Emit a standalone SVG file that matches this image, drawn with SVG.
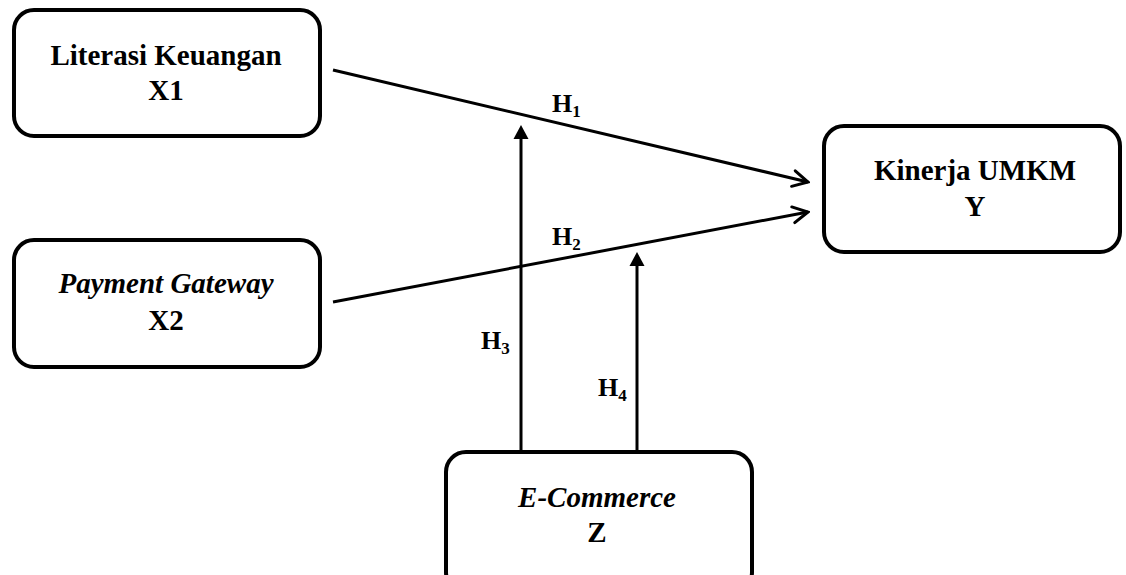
<svg xmlns="http://www.w3.org/2000/svg" width="1126" height="575" viewBox="0 0 1126 575">
<style>
.box{fill:#fff;stroke:#000;stroke-width:4}
.t{font-family:'Liberation Serif',serif;font-weight:bold;font-size:29px;text-anchor:middle;fill:#000}
.i{font-style:italic}
.h{font-family:'Liberation Serif',serif;font-weight:bold;font-size:26px;fill:#000}
.sub{font-size:17px}
.ln{stroke:#000;stroke-width:3;fill:none}
</style>
<defs>
<marker id="open" viewBox="0 0 20 20" refX="18" refY="10" markerWidth="20" markerHeight="20" markerUnits="userSpaceOnUse" orient="auto">
<path d="M3,2 L18,10 L3,18" fill="none" stroke="#000" stroke-width="3" stroke-linecap="round" stroke-linejoin="miter"/>
</marker>
</defs>
<g id="connectors">
<line class="ln" x1="333" y1="70" x2="808" y2="182" marker-end="url(#open)"/>
<line class="ln" x1="333" y1="302" x2="808" y2="212" marker-end="url(#open)"/>
<line class="ln" x1="521" y1="452" x2="521" y2="138"/>
<path d="M521,125 L528.5,139 L513.5,139 Z" fill="#000"/>
<line class="ln" x1="637" y1="452" x2="637" y2="265"/>
<path d="M637,252 L644.5,266 L629.5,266 Z" fill="#000"/>
<text class="h" font-family="Liberation Serif" x="552" y="112">H<tspan class="sub" dy="5">1</tspan></text>
<text class="h" font-family="Liberation Serif" x="552" y="245">H<tspan class="sub" dy="5">2</tspan></text>
<text class="h" font-family="Liberation Serif" x="481" y="349">H<tspan class="sub" dy="5">3</tspan></text>
<text class="h" font-family="Liberation Serif" x="598" y="396">H<tspan class="sub" dy="5">4</tspan></text>
</g>
<g id="node-x1">
<rect class="box" x="14" y="10" width="306" height="126" rx="20"/>
<text class="t" x="166" y="65">Literasi Keuangan</text>
<text class="t" x="166" y="100">X1</text>
</g>
<g id="node-x2">
<rect class="box" x="14" y="240" width="306" height="127" rx="20"/>
<text class="t i" x="166" y="293">Payment Gateway</text>
<text class="t" x="166" y="330">X2</text>
</g>
<g id="node-y">
<rect class="box" x="824" y="126" width="296" height="126" rx="20"/>
<text class="t" x="975" y="180">Kinerja UMKM</text>
<text class="t" x="975" y="216">Y</text>
</g>
<g id="node-z">
<rect class="box" x="446" y="452" width="306" height="140" rx="20"/>
<text class="t i" x="597" y="507">E-Commerce</text>
<text class="t" x="597" y="542">Z</text>
</g>
</svg>
